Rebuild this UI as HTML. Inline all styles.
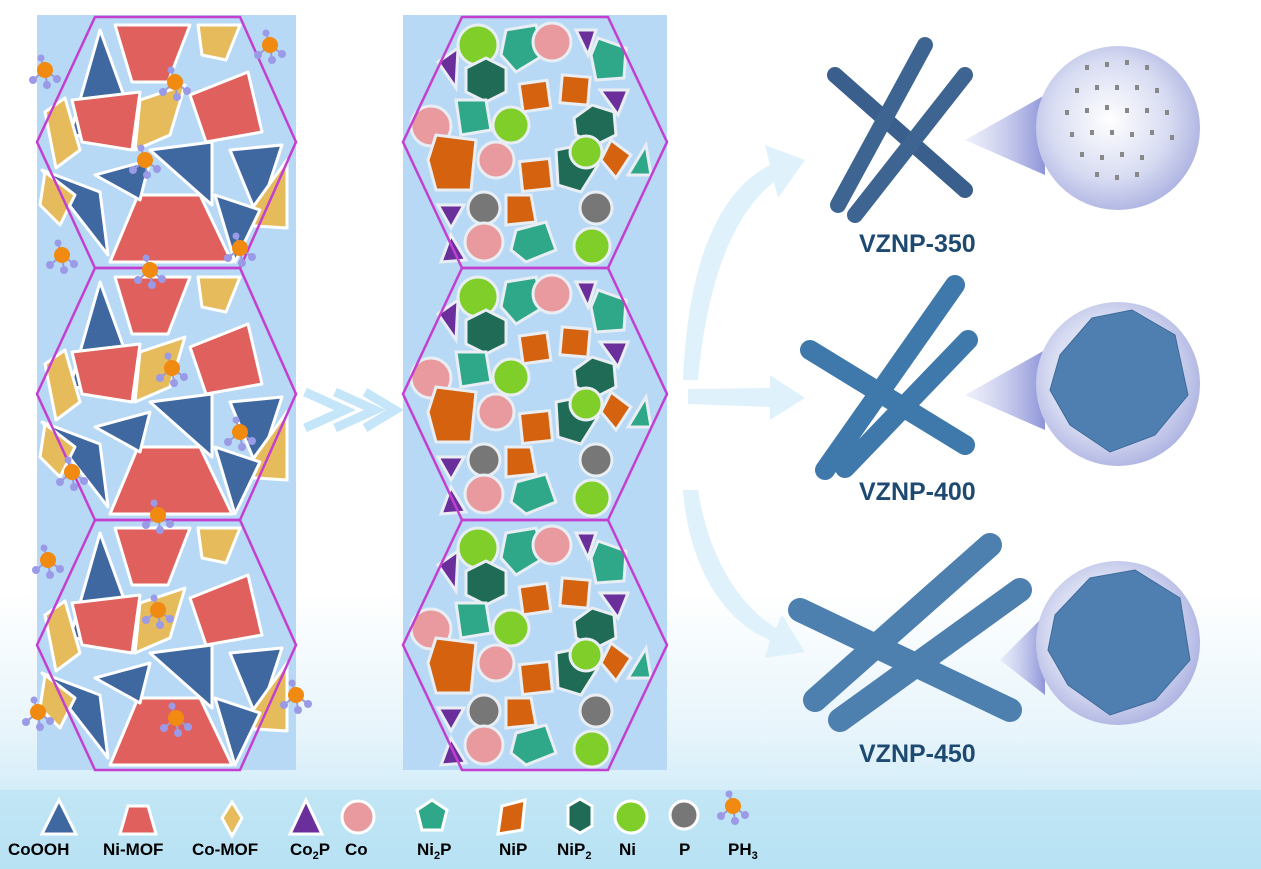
<!DOCTYPE html>
<html><head><style>
html,body{margin:0;padding:0;width:1261px;height:869px;overflow:hidden;background:#fff;}
svg{display:block;}
text{font-family:"Liberation Sans",Arial,sans-serif;font-weight:bold;}
</style></head><body>
<svg width="1261" height="869" viewBox="0 0 1261 869" xmlns="http://www.w3.org/2000/svg">
<defs>
<linearGradient id="bg" x1="0" y1="0" x2="0" y2="1">
<stop offset="0" stop-color="#ffffff"/><stop offset="0.68" stop-color="#ffffff"/><stop offset="0.85" stop-color="#e6f4fb"/><stop offset="1" stop-color="#b9e3f5"/>
</linearGradient>
<radialGradient id="sph" cx="0.45" cy="0.45" r="0.6">
<stop offset="0" stop-color="#ffffff"/><stop offset="0.6" stop-color="#d8dcf2"/><stop offset="1" stop-color="#a9afe0"/>
</radialGradient>
<linearGradient id="cone" x1="0" y1="0" x2="1" y2="0">
<stop offset="0" stop-color="#c9cdf0" stop-opacity="0.3"/><stop offset="1" stop-color="#8e95d8"/>
</linearGradient>
<g id="ph3">
<line x1="0" y1="0" x2="-12" y2="10" stroke="#9a9ad8" stroke-width="2"/>
<line x1="0" y1="0" x2="12" y2="9" stroke="#9a9ad8" stroke-width="2"/>
<line x1="0" y1="0" x2="2" y2="15" stroke="#9a9ad8" stroke-width="2"/>
<line x1="0" y1="0" x2="-4" y2="-12" stroke="#9a9ad8" stroke-width="2"/>
<circle cx="0" cy="0" r="8" fill="#f08a10"/>
<circle cx="-12" cy="10" r="4" fill="#9a9ae6"/><circle cx="12" cy="9" r="4" fill="#9a9ae6"/><circle cx="2" cy="15" r="4" fill="#9a9ae6"/><circle cx="-4" cy="-12" r="3.5" fill="#9a9ae6"/>
</g>
<g id="lhex" stroke="#fff" stroke-width="3" stroke-linejoin="round">
<polygon points="70,135 100,30 140,140" fill="#3f67a0"/>
<polygon points="115,25 190,25 168,82 132,82" fill="#e0605e"/>
<polygon points="198,25 240,25 226,60 202,55" fill="#e6bb5c"/>
<polygon points="190,95 248,72 262,132 206,142" fill="#e0605e"/>
<polygon points="72,100 140,92 132,150 82,142" fill="#e0605e"/>
<polygon points="45,112 65,98 80,150 56,168" fill="#e6bb5c"/>
<polygon points="140,100 185,85 170,135 135,150" fill="#e6bb5c"/>
<polygon points="150,150 212,142 212,205" fill="#3f67a0"/>
<polygon points="110,262 138,195 200,195 232,262" fill="#e0605e"/>
<polygon points="42,170 100,192 108,255" fill="#3f67a0"/>
<polygon points="95,175 150,160 140,200" fill="#3f67a0"/>
<polygon points="230,150 282,145 258,218" fill="#3f67a0"/>
<polygon points="240,225 287,160 287,228" fill="#e6bb5c"/>
<polygon points="215,195 260,210 235,262" fill="#3f67a0"/>
<polygon points="45,172 75,195 60,225 40,205" fill="#e6bb5c"/>
</g>
<g id="mhex" stroke="#e8eef3" stroke-width="3">
<circle cx="112" cy="45" r="20" fill="#7fce2a"/>
<polygon points="140,30 170,25 178,55 150,72 135,55" fill="#2fa88a"/>
<circle cx="186" cy="42" r="19" fill="#e89a9e"/>
<polygon points="210,30 230,30 222,55" fill="#6a2f9a"/>
<polygon points="232,38 260,48 258,78 230,80 225,55" fill="#2fa88a"/>
<polygon points="72,62 92,48 90,88" fill="#6a2f9a"/>
<polygon points="100,68 120,58 140,68 140,92 120,102 100,92" fill="#1f6b55"/>
<rect x="155" y="82" width="28" height="28" fill="#d4620e" transform="rotate(-8 169 96)"/>
<rect x="195" y="76" width="28" height="28" fill="#d4620e" transform="rotate(5 209 90)"/>
<polygon points="234,90 262,90 252,115" fill="#6a2f9a"/>
<polygon points="208,118 226,105 248,112 250,135 230,145 210,135" fill="#1f6b55"/>
<circle cx="65" cy="126" r="20" fill="#e89a9e"/>
<polygon points="90,100 120,100 125,130 95,135" fill="#2fa88a"/>
<circle cx="145" cy="125" r="18" fill="#7fce2a"/>
<polygon points="62,160 70,135 110,140 105,190 70,190" fill="#d4620e"/>
<circle cx="130" cy="160" r="18" fill="#e89a9e"/>
<rect x="155" y="160" width="30" height="30" fill="#d4620e" transform="rotate(-6 170 175)"/>
<polygon points="190,150 215,145 232,165 215,192 192,185" fill="#1f6b55"/>
<circle cx="220" cy="152" r="16" fill="#7fce2a"/>
<polygon points="245,140 265,155 250,178 235,160" fill="#d4620e"/>
<polygon points="262,175 280,145 285,175" fill="#2fa88a"/>
<polygon points="72,205 98,205 85,228" fill="#6a2f9a"/>
<circle cx="118" cy="208" r="16" fill="#777"/>
<polygon points="140,195 165,195 170,222 140,225" fill="#d4620e"/>
<circle cx="230" cy="208" r="16" fill="#777"/>
<circle cx="118" cy="242" r="19" fill="#e89a9e"/>
<polygon points="150,230 180,222 190,250 160,262 145,250" fill="#2fa88a"/>
<circle cx="226" cy="246" r="18" fill="#7fce2a"/>
<polygon points="85,235 100,260 75,262" fill="#6a2f9a"/>
</g>
</defs>
<rect width="1261" height="869" fill="url(#bg)"/>
<rect x="0" y="790" width="1261" height="79" fill="#b5e1f3" opacity="0.6"/>

<rect x="37" y="15" width="259" height="755" fill="#b7d9f5"/>
<use href="#lhex"/>
<use href="#lhex" transform="translate(0,252)"/>
<use href="#lhex" transform="translate(0,503)"/>
<g fill="none" stroke="#c23fcf" stroke-width="2.5">
<polygon points="95,17 240,17 296,142 240,268 95,268 37,142"/>
<polygon points="95,268 240,268 296,394 240,520 95,520 37,394"/>
<polygon points="95,520 240,520 296,645 240,770 95,770 37,645"/>
</g>
<use href="#ph3" x="45" y="70"/><use href="#ph3" x="270" y="45"/><use href="#ph3" x="175" y="82"/>
<use href="#ph3" x="145" y="160"/><use href="#ph3" x="62" y="255"/><use href="#ph3" x="150" y="270"/>
<use href="#ph3" x="240" y="248"/><use href="#ph3" x="172" y="368"/><use href="#ph3" x="240" y="432"/>
<use href="#ph3" x="72" y="472"/><use href="#ph3" x="158" y="515"/><use href="#ph3" x="48" y="560"/>
<use href="#ph3" x="158" y="610"/><use href="#ph3" x="296" y="695"/><use href="#ph3" x="38" y="712"/>
<use href="#ph3" x="176" y="718"/>

<g fill="none" stroke="#c5e6f8" stroke-width="9">
<polyline points="305,392 345,410 305,428"/><polyline points="335,392 375,410 335,428"/><polyline points="365,392 395,410 365,428"/>
</g>

<rect x="403" y="15" width="264" height="755" fill="#b7d9f5"/>
<g transform="translate(366,0)"><use href="#mhex"/></g>
<g transform="translate(366,252)"><use href="#mhex"/></g>
<g transform="translate(366,503)"><use href="#mhex"/></g>
<g fill="none" stroke="#c23fcf" stroke-width="2.5">
<polygon points="462,17 608,17 667,142 608,268 462,268 403,142"/>
<polygon points="462,268 608,268 667,394 608,520 462,520 403,394"/>
<polygon points="462,520 608,520 667,645 608,770 462,770 403,645"/>
</g>

<g fill="#dff2fb">
<path d="M683,380 C688,260 720,190 770,165 L765,145 L805,160 L778,198 L774,182 C738,210 708,270 698,380 Z"/>
<path d="M688,389 L770,388 L770,375 L805,398 L770,420 L770,407 L688,404 Z"/>
<path d="M683,490 C688,560 720,620 770,640 L765,658 L805,652 L782,615 L776,628 C738,605 708,555 698,490 Z"/>
</g>

<g stroke-linecap="round" fill="none">
<line x1="835" y1="75" x2="965" y2="190" stroke="#3b5f8c" stroke-width="16"/>
<line x1="838" y1="205" x2="925" y2="45" stroke="#3e6592" stroke-width="16"/>
<line x1="855" y1="215" x2="965" y2="75" stroke="#3e6592" stroke-width="16"/>
<line x1="955" y1="285" x2="825" y2="470" stroke="#3f79ab" stroke-width="20"/>
<line x1="810" y1="350" x2="965" y2="445" stroke="#3f79ab" stroke-width="20"/>
<line x1="845" y1="468" x2="968" y2="340" stroke="#3f79ab" stroke-width="20"/>
<line x1="800" y1="610" x2="1010" y2="710" stroke="#4d7faf" stroke-width="24"/>
<line x1="815" y1="700" x2="990" y2="545" stroke="#4d7faf" stroke-width="24"/>
<line x1="840" y1="720" x2="1020" y2="590" stroke="#4d7faf" stroke-width="24"/>
</g>
<polygon points="965,140 1045,95 1045,175" fill="url(#cone)"/>
<polygon points="965,395 1045,350 1045,430" fill="url(#cone)"/>
<polygon points="1000,660 1045,615 1045,695" fill="url(#cone)"/>
<circle cx="1118" cy="128" r="82" fill="url(#sph)"/>
<circle cx="1118" cy="384" r="82" fill="url(#sph)"/>
<circle cx="1118" cy="643" r="82" fill="url(#sph)"/>
<g fill="#888">
<rect x="1085" y="65" width="4" height="5"/><rect x="1105" y="62" width="4" height="5"/><rect x="1125" y="60" width="4" height="5"/><rect x="1145" y="65" width="4" height="5"/>
<rect x="1075" y="88" width="4" height="5"/><rect x="1095" y="85" width="4" height="5"/><rect x="1115" y="85" width="4" height="5"/><rect x="1135" y="85" width="4" height="5"/><rect x="1155" y="88" width="4" height="5"/>
<rect x="1065" y="110" width="4" height="5"/><rect x="1085" y="108" width="4" height="5"/><rect x="1105" y="105" width="4" height="5"/><rect x="1125" y="108" width="4" height="5"/><rect x="1145" y="108" width="4" height="5"/><rect x="1165" y="110" width="4" height="5"/>
<rect x="1070" y="132" width="4" height="5"/><rect x="1090" y="130" width="4" height="5"/><rect x="1110" y="130" width="4" height="5"/><rect x="1130" y="132" width="4" height="5"/><rect x="1150" y="130" width="4" height="5"/><rect x="1170" y="135" width="4" height="5"/>
<rect x="1080" y="152" width="4" height="5"/><rect x="1100" y="155" width="4" height="5"/><rect x="1120" y="152" width="4" height="5"/><rect x="1140" y="155" width="4" height="5"/>
<rect x="1095" y="172" width="4" height="5"/><rect x="1115" y="175" width="4" height="5"/><rect x="1135" y="172" width="4" height="5"/>
</g>
<polygon points="1060,355 1092,318 1132,310 1175,335 1188,395 1155,435 1110,452 1070,425 1050,390" fill="#4f7fb0" stroke="#3d6b9a"/>
<polygon points="1055,615 1090,578 1135,570 1180,598 1190,660 1155,700 1110,715 1068,685 1048,650" fill="#4f7fb0" stroke="#3d6b9a"/>

<g fill="#1e4a72" font-size="25">
<text x="859" y="252">VZNP-350</text>
<text x="859" y="500">VZNP-400</text>
<text x="859" y="762">VZNP-450</text>
</g>

<g stroke="#fff" stroke-width="3">
<polygon points="42,834 59,800 76,834" fill="#3f67a0"/>
<polygon points="120,834 128,806 148,806 156,834" fill="#e0605e"/>
<polygon points="232,802 242,818 232,836 222,818" fill="#e6bb5c"/>
<polygon points="290,834 306,800 322,834" fill="#6a2f9a"/>
<circle cx="358" cy="817" r="16" fill="#e89a9e"/>
<polygon points="432,800 447,810 442,830 422,830 417,810" fill="#2fa88a"/>
<polygon points="502,806 525,800 522,830 498,834" fill="#d4620e"/>
<polygon points="568,806 580,799 592,806 592,826 580,833 568,826" fill="#1f6b55"/>
<circle cx="631" cy="817" r="16" fill="#7fce2a"/>
<circle cx="684" cy="815" r="14" fill="#777"/>
</g>
<use href="#ph3" x="733" y="806"/>
<g fill="#000" font-size="17">
<text x="8" y="855">CoOOH</text>
<text x="103" y="855">Ni-MOF</text>
<text x="192" y="855">Co-MOF</text>
<text x="290" y="855">Co<tspan font-size="11" dy="4">2</tspan><tspan dy="-4">P</tspan></text>
<text x="345" y="855">Co</text>
<text x="417" y="855">Ni<tspan font-size="11" dy="4">2</tspan><tspan dy="-4">P</tspan></text>
<text x="499" y="855">NiP</text>
<text x="557" y="855">NiP<tspan font-size="11" dy="4">2</tspan></text>
<text x="619" y="855">Ni</text>
<text x="679" y="855">P</text>
<text x="728" y="855">PH<tspan font-size="11" dy="4">3</tspan></text>
</g>
</svg>
</body></html>
